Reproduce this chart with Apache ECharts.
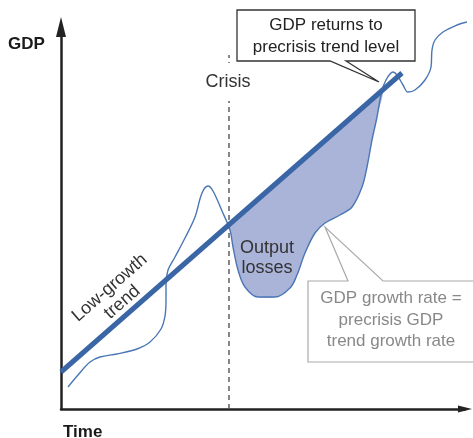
<!DOCTYPE html>
<html>
<head>
<meta charset="utf-8">
<script src="https://cdn.jsdelivr.net/npm/echarts@6/dist/echarts.min.js"></script>
<style>html,body{margin:0;padding:0;background:#fff;}#chart{width:473px;height:438px;}</style>
</head>
<body>
<div id="chart"></div>
<script>
// Low-growth trend line (time, GDP) in arbitrary units
const trendTime = [0, 341];
const trendGDP = [37, 336];
// Actual GDP path
const gdpTime = [7, 17, 29, 39, 56, 76, 89, 100, 104, 105, 105, 107, 114, 124, 134, 141, 147, 152, 161, 169, 172, 177, 184, 197, 214, 229, 236, 244, 254, 264, 279, 291, 301, 306, 311, 316, 321, 325, 329, 332, 336, 342, 347, 354, 364, 370, 371, 374, 382, 396, 406];
const gdpValue = [22, 34, 47, 52, 55, 60, 67, 80, 93, 109, 124, 139, 152, 171, 192, 216, 223, 218, 198, 179, 162, 139, 122, 112, 112, 121, 134, 156, 176, 186, 194, 202, 222, 242, 269, 292, 319, 329, 335, 337, 334, 324, 317, 319, 329, 342, 359, 369, 377, 384, 387];
// Crisis moment and span of the output-loss area
const crisisTime = 168;
const crisisLineTop = 354;
const lossStart = 167;
const lossEnd = 321;

const trendAt = t => trendGDP[0] + (trendGDP[1] - trendGDP[0]) * (t - trendTime[0]) / (trendTime[1] - trendTime[0]);
const trendData = trendTime.map((t, i) => [t, trendGDP[i]]);
const gdpData = gdpTime.map((t, i) => [t, gdpValue[i]]);
const lossData = [[lossStart, trendAt(lossStart)]]
  .concat(gdpData.filter(d => d[0] > lossStart && d[0] < lossEnd))
  .concat([[lossEnd, trendAt(lossEnd)]]);

const FONT = '"Liberation Sans", Arial, sans-serif';
const ARROW = 'path://M5,0L10,20L0,20Z';
const chart = echarts.init(document.getElementById('chart'));
chart.setOption({
  animation: false,
  backgroundColor: '#fff',
  grid: { left: 61, top: 27, width: 404, height: 382, containLabel: false },
  xAxis: {
    type: 'value', min: 0, max: 404,
    axisLine: { show: true, symbol: ['none', ARROW], symbolSize: [12, 14], lineStyle: { color: '#222', width: 2.5 } },
    axisTick: { show: false }, axisLabel: { show: false }, splitLine: { show: false }
  },
  yAxis: {
    type: 'value', min: 0, max: 382,
    axisLine: { show: true, symbol: ['none', ARROW], symbolSize: [13, 20], lineStyle: { color: '#222', width: 2.5 } },
    axisTick: { show: false }, axisLabel: { show: false }, splitLine: { show: false }
  },
  series: [
    {
      type: 'custom', name: 'Output losses', clip: false, z: 1,
      data: [0],
      renderItem: function (params, api) {
        const pts = lossData.map(d => api.coord(d));
        return { type: 'polygon', shape: { points: pts, smooth: 0.25 }, style: { fill: '#aab4d9', stroke: null } };
      }
    },
    {
      type: 'line', name: 'Crisis', z: 2, clip: false, silent: true,
      data: [[crisisTime, 0], [crisisTime, crisisLineTop]],
      symbol: 'none',
      lineStyle: { color: '#555', width: 1.4, type: [5, 4] }
    },
    {
      type: 'line', name: 'GDP', z: 3, clip: false, smooth: 0.35,
      data: gdpData, symbol: 'none',
      lineStyle: { color: '#4a77b4', width: 1.4 }
    },
    {
      type: 'line', name: 'Trend', z: 4, clip: false,
      data: trendData, symbol: 'none',
      lineStyle: { color: '#3a66a6', width: 5, cap: 'butt' }
    }
  ],
  graphic: [
    { type: 'text', z: 100, x: 8, y: 44, style: { text: 'GDP', font: 'bold 17px ' + FONT, fill: '#1a1a1a', verticalAlign: 'middle' } },
    { type: 'text', z: 100, x: 63, y: 432, style: { text: 'Time', font: 'bold 17px ' + FONT, fill: '#1a1a1a', verticalAlign: 'middle' } },
    { type: 'text', z: 100, x: 228, y: 82, style: { text: 'Crisis', font: '18px ' + FONT, fill: '#333', align: 'center', verticalAlign: 'middle', backgroundColor: '#fff', padding: [10, 2] } },
    { type: 'text', z: 100, x: 116, y: 295, rotation: 0.719, style: { text: 'Low-growth\ntrend', font: '18px ' + FONT, fill: '#333', align: 'center', verticalAlign: 'middle', lineHeight: 19 } },
    { type: 'text', z: 100, x: 267, y: 258, style: { text: 'Output\nlosses', font: '18px ' + FONT, fill: '#333', align: 'center', verticalAlign: 'middle', lineHeight: 20 } },
    { type: 'polygon', z: 100, shape: { points: [[237, 10], [415, 10], [415, 61], [346, 61], [379, 82], [330, 61], [237, 61]] }, style: { fill: '#fff', stroke: '#333', lineWidth: 1.3 } },
    { type: 'text', z: 101, x: 326, y: 36, style: { text: 'GDP returns to\nprecrisis trend level', font: '17px ' + FONT, fill: '#222', align: 'center', verticalAlign: 'middle', lineHeight: 22 } },
    { type: 'polygon', z: 100, shape: { points: [[308, 281], [348, 281], [325, 227], [383, 281], [480, 281], [480, 362], [308, 362]] }, style: { fill: '#fff', stroke: '#aaa', lineWidth: 1.2 } },
    { type: 'text', z: 101, x: 391, y: 320, style: { text: 'GDP growth rate =\nprecrisis GDP\ntrend growth rate', font: '17px ' + FONT, fill: '#888', align: 'center', verticalAlign: 'middle', lineHeight: 21.5 } }
  ]
});
</script>
</body>
</html>
